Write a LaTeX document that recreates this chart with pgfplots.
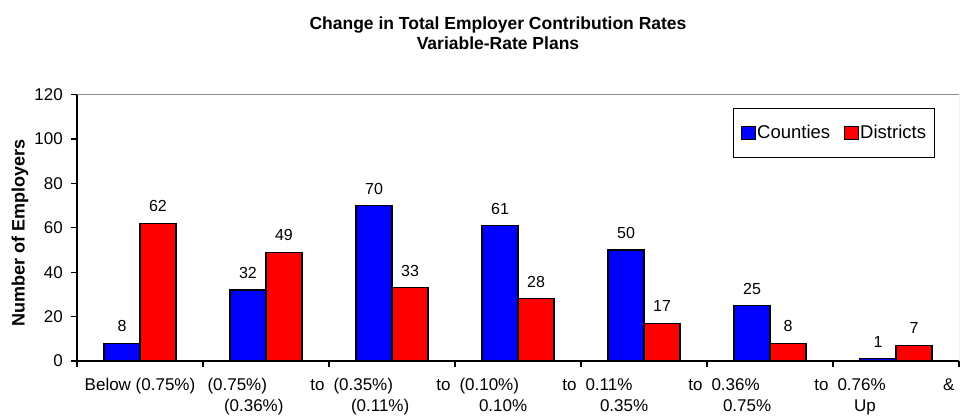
\documentclass[border=0pt]{standalone}
\usepackage{pgfplots}
\pgfplotsset{compat=1.18}
\usepackage{fontspec}
\setmainfont{Liberation Sans}
\definecolor{cblue}{RGB}{0,0,255}
\definecolor{cred}{RGB}{255,0,0}
\definecolor{frame}{RGB}{140,140,140}
\newcommand{\twoline}[4]{\parbox[t]{117bp}{#1\hfill #2\\\hspace*{#4}#3}}
\begin{document}
\begin{tikzpicture}
\path[use as bounding box] (-77bp,-55bp) rectangle (892bp,361bp);
\begin{axis}[
  at={(0,0)}, anchor=south west,
  scale only axis, width=882bp, height=266.4bp,
  xmin=-0.5, xmax=6.5, ymin=0, ymax=120,
  ybar=0pt, bar width=36bp,
  /pgf/number format/assume math mode=true,
  axis x line*=bottom, axis y line*=left,
  axis line style={-, black, line width=1.2bp},
  tick align=outside,
  major tick length=6bp, minor tick length=6bp,
  xtick={0,1,2,3,4,5,6},
  xticklabels={
    {\parbox[t]{117bp}{\centering Below (0.75\%)}},
    {\twoline{(0.75\%)}{to}{(0.36\%)}{16.5bp}},
    {\twoline{(0.35\%)}{to}{(0.11\%)}{17.5bp}},
    {\twoline{(0.10\%)}{to}{0.10\%}{19.5bp}},
    {\twoline{0.11\%}{to}{0.35\%}{14.5bp}},
    {\twoline{0.36\%}{to}{0.75\%}{11.5bp}},
    {\twoline{0.76\%}{\&}{Up}{16.5bp}}},
  major x tick style={draw=none},
  minor xtick={-0.5,0.5,1.5,2.5,3.5,4.5,5.5,6.5},
  minor x tick style={black, line width=1.2bp},
  ytick={0,20,40,60,80,100,120},
  ytick style={black, line width=1.2bp},
  xticklabel style={font=\fontsize{17bp}{21.5bp}\selectfont, anchor=base, inner sep=0pt, yshift=-23bp},
  yticklabel style={font=\fontsize{17bp}{20bp}\selectfont, inner sep=0pt, xshift=-8bp},
  every node near coord/.append style={font=\fontsize{16bp}{19bp}\selectfont, anchor=base, inner sep=0pt, yshift=11.5bp, black},
  nodes near coords,
  title={Change in Total Employer Contribution Rates\\Variable-Rate Plans},
  title style={font=\fontsize{17.5bp}{19.5bp}\selectfont\bfseries, align=center, at={(axis description cs:0.4773,1.2695)}, anchor=north, inner sep=0pt},
  ylabel={Number of Employers},
  ylabel style={font=\fontsize{18bp}{20bp}\selectfont\bfseries, at={(axis description cs:-0.0646,0.479)}, anchor=center, inner sep=0pt},
  legend columns=2,
  legend image code/.code={\draw[#1, line width=1bp] (0bp,-6.5bp) rectangle (14bp,6.5bp);},
  legend style={at={(axis description cs:0.9728,0.9497)}, anchor=north east,
    font=\fontsize{18.5bp}{21bp}\selectfont, draw=black, line width=1bp,
    inner xsep=7bp, inner ysep=15bp,
    nodes={inner xsep=1.5bp, inner ysep=2bp},
    /tikz/every even column/.append style={column sep=12bp}},
  legend cell align=left,
]
\addplot[fill=cblue, draw=black, line width=1.2bp] coordinates {(0,8) (1,32) (2,70) (3,61) (4,50) (5,25) (6,1)};
\addplot[fill=cred, draw=black, line width=1.2bp] coordinates {(0,62) (1,49) (2,33) (3,28) (4,17) (5,8) (6,7)};
\legend{Counties, Districts}
\draw[frame, line width=1bp] (rel axis cs:0,1) -- (rel axis cs:1,1) -- (rel axis cs:1,0);
\end{axis}
\end{tikzpicture}
\end{document}
